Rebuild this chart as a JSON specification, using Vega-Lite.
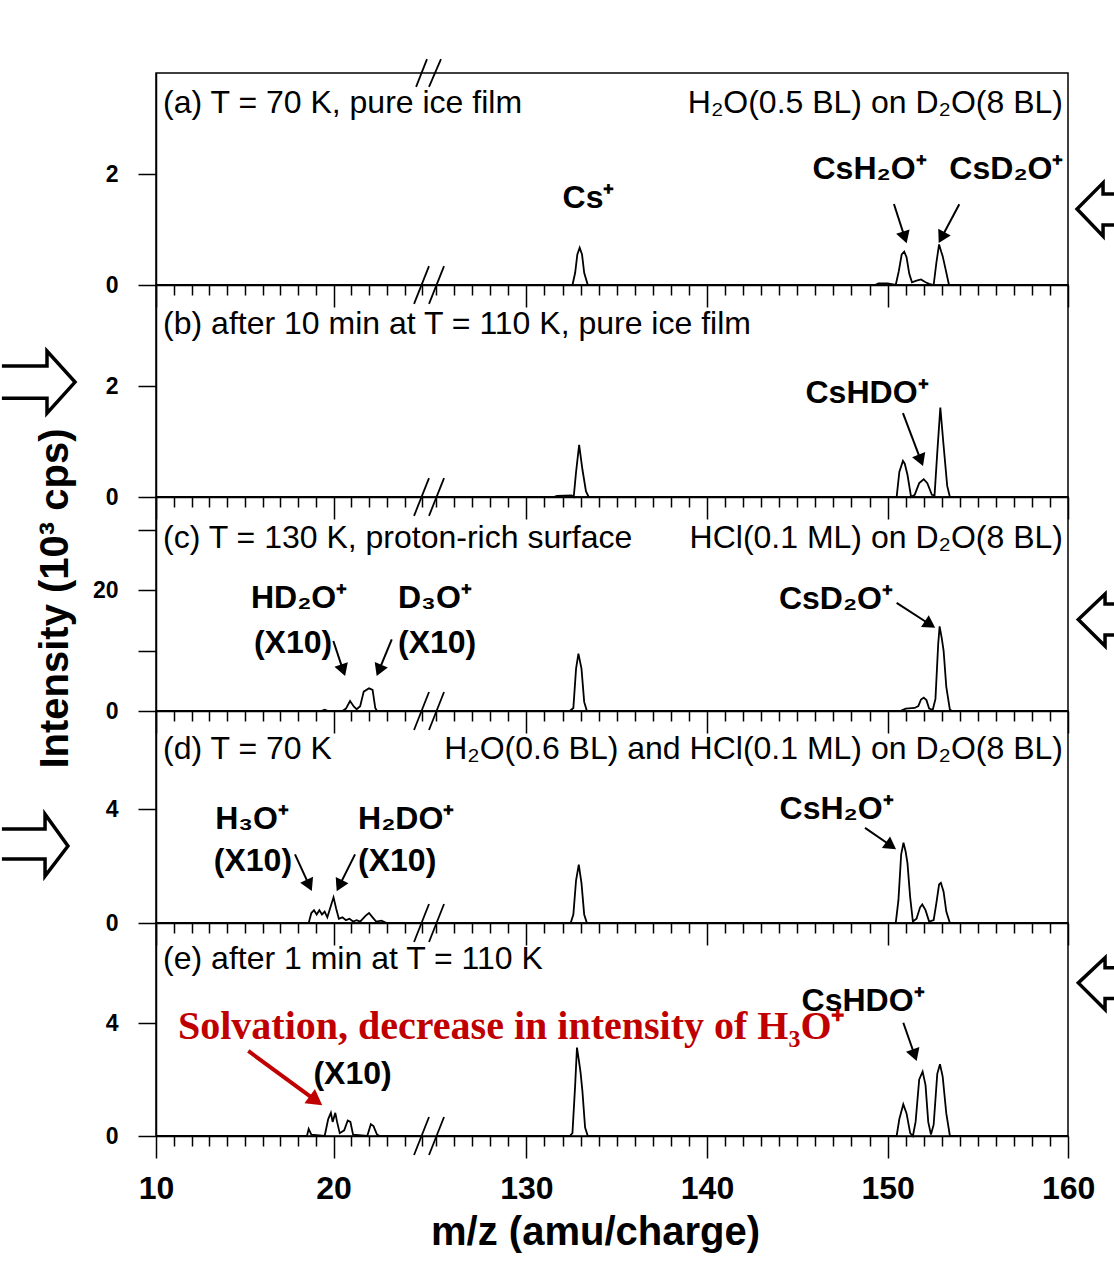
{
"$schema": "https://vega.github.io/schema/vega-lite/v6.json",
"background": "white",
"padding": {"left": -6, "top": 57, "right": 0, "bottom": 5},
"spacing": 0,
"bounds": "flush",
"datasets": {
"spec": [
{"p":"a","s":"L","x":10,"y":0},{"p":"a","s":"L","x":25,"y":0},
{"p":"a","s":"R","x":125,"y":0},{"p":"a","s":"R","x":132.55,"y":0},{"p":"a","s":"R","x":132.7,"y":0.22},{"p":"a","s":"R","x":132.82,"y":0.55},{"p":"a","s":"R","x":132.95,"y":0.67},{"p":"a","s":"R","x":133.08,"y":0.55},{"p":"a","s":"R","x":133.2,"y":0.22},{"p":"a","s":"R","x":133.4,"y":0},{"p":"a","s":"R","x":149.3,"y":0},{"p":"a","s":"R","x":149.5,"y":0.03},{"p":"a","s":"R","x":150,"y":0.03},{"p":"a","s":"R","x":150.45,"y":0},{"p":"a","s":"R","x":150.62,"y":0.25},{"p":"a","s":"R","x":150.78,"y":0.55},{"p":"a","s":"R","x":150.92,"y":0.6},{"p":"a","s":"R","x":151.05,"y":0.5},{"p":"a","s":"R","x":151.2,"y":0.2},{"p":"a","s":"R","x":151.35,"y":0.05},{"p":"a","s":"R","x":151.6,"y":0.08},{"p":"a","s":"R","x":151.85,"y":0.1},{"p":"a","s":"R","x":152.1,"y":0.05},{"p":"a","s":"R","x":152.3,"y":0.02},{"p":"a","s":"R","x":152.55,"y":0},{"p":"a","s":"R","x":152.7,"y":0.4},{"p":"a","s":"R","x":152.85,"y":0.73},{"p":"a","s":"R","x":152.97,"y":0.6},{"p":"a","s":"R","x":153.05,"y":0.52},{"p":"a","s":"R","x":153.2,"y":0.3},{"p":"a","s":"R","x":153.4,"y":0},{"p":"a","s":"R","x":160,"y":0},
{"p":"b","s":"L","x":10,"y":0},{"p":"b","s":"L","x":25,"y":0},
{"p":"b","s":"R","x":125,"y":0},{"p":"b","s":"R","x":131.5,"y":0},{"p":"b","s":"R","x":131.7,"y":0.02},{"p":"b","s":"R","x":132.5,"y":0.03},{"p":"b","s":"R","x":132.62,"y":0},{"p":"b","s":"R","x":132.75,"y":0.45},{"p":"b","s":"R","x":132.92,"y":0.94},{"p":"b","s":"R","x":133.1,"y":0.5},{"p":"b","s":"R","x":133.3,"y":0.1},{"p":"b","s":"R","x":133.45,"y":0},{"p":"b","s":"R","x":150.5,"y":0},{"p":"b","s":"R","x":150.65,"y":0.45},{"p":"b","s":"R","x":150.85,"y":0.65},{"p":"b","s":"R","x":150.95,"y":0.6},{"p":"b","s":"R","x":151.1,"y":0.4},{"p":"b","s":"R","x":151.3,"y":0},{"p":"b","s":"R","x":151.5,"y":0.04},{"p":"b","s":"R","x":151.75,"y":0.25},{"p":"b","s":"R","x":152.0,"y":0.32},{"p":"b","s":"R","x":152.2,"y":0.25},{"p":"b","s":"R","x":152.45,"y":0.04},{"p":"b","s":"R","x":152.6,"y":0.03},{"p":"b","s":"R","x":152.75,"y":0.8},{"p":"b","s":"R","x":152.92,"y":1.61},{"p":"b","s":"R","x":153.08,"y":1.0},{"p":"b","s":"R","x":153.3,"y":0.2},{"p":"b","s":"R","x":153.45,"y":0},{"p":"b","s":"R","x":160,"y":0},
{"p":"c","s":"L","x":10,"y":0},{"p":"c","s":"L","x":19.3,"y":0},{"p":"c","s":"L","x":19.5,"y":0.2},{"p":"c","s":"L","x":19.7,"y":0},{"p":"c","s":"L","x":20.5,"y":0},{"p":"c","s":"L","x":20.7,"y":0.4},{"p":"c","s":"L","x":20.93,"y":1.65},{"p":"c","s":"L","x":21.15,"y":0.7},{"p":"c","s":"L","x":21.3,"y":0.3},{"p":"c","s":"L","x":21.5,"y":0.8},{"p":"c","s":"L","x":21.7,"y":3.2},{"p":"c","s":"L","x":22.0,"y":3.75},{"p":"c","s":"L","x":22.2,"y":3.5},{"p":"c","s":"L","x":22.35,"y":0.5},{"p":"c","s":"L","x":22.45,"y":0},{"p":"c","s":"L","x":25,"y":0},
{"p":"c","s":"R","x":125,"y":0},{"p":"c","s":"R","x":132.4,"y":0},{"p":"c","s":"R","x":132.6,"y":0.5},{"p":"c","s":"R","x":132.75,"y":7},{"p":"c","s":"R","x":132.88,"y":9.5},{"p":"c","s":"R","x":133.05,"y":7},{"p":"c","s":"R","x":133.2,"y":1.5},{"p":"c","s":"R","x":133.35,"y":0},{"p":"c","s":"R","x":150.7,"y":0},{"p":"c","s":"R","x":151.0,"y":0.4},{"p":"c","s":"R","x":151.5,"y":0.5},{"p":"c","s":"R","x":151.7,"y":0.8},{"p":"c","s":"R","x":151.85,"y":1.9},{"p":"c","s":"R","x":152.0,"y":2.2},{"p":"c","s":"R","x":152.15,"y":1.8},{"p":"c","s":"R","x":152.3,"y":0.4},{"p":"c","s":"R","x":152.5,"y":0.2},{"p":"c","s":"R","x":152.65,"y":2},{"p":"c","s":"R","x":152.8,"y":11},{"p":"c","s":"R","x":152.88,"y":14},{"p":"c","s":"R","x":153.0,"y":12},{"p":"c","s":"R","x":153.1,"y":10},{"p":"c","s":"R","x":153.25,"y":4},{"p":"c","s":"R","x":153.45,"y":0.2},{"p":"c","s":"R","x":153.6,"y":0},{"p":"c","s":"R","x":160,"y":0},
{"p":"d","s":"L","x":10,"y":0},{"p":"d","s":"L","x":18.6,"y":0},{"p":"d","s":"L","x":18.75,"y":0.35},{"p":"d","s":"L","x":18.9,"y":0.45},{"p":"d","s":"L","x":19.05,"y":0.3},{"p":"d","s":"L","x":19.2,"y":0.45},{"p":"d","s":"L","x":19.35,"y":0.3},{"p":"d","s":"L","x":19.5,"y":0.4},{"p":"d","s":"L","x":19.65,"y":0.2},{"p":"d","s":"L","x":19.8,"y":0.5},{"p":"d","s":"L","x":20.0,"y":0.9},{"p":"d","s":"L","x":20.15,"y":0.5},{"p":"d","s":"L","x":20.3,"y":0.15},{"p":"d","s":"L","x":20.5,"y":0.2},{"p":"d","s":"L","x":20.7,"y":0.1},{"p":"d","s":"L","x":20.9,"y":0.15},{"p":"d","s":"L","x":21.1,"y":0.05},{"p":"d","s":"L","x":21.3,"y":0.1},{"p":"d","s":"L","x":21.5,"y":0.05},{"p":"d","s":"L","x":21.8,"y":0.25},{"p":"d","s":"L","x":22.0,"y":0.35},{"p":"d","s":"L","x":22.2,"y":0.2},{"p":"d","s":"L","x":22.4,"y":0.05},{"p":"d","s":"L","x":22.7,"y":0.08},{"p":"d","s":"L","x":23,"y":0},{"p":"d","s":"L","x":25,"y":0},
{"p":"d","s":"R","x":125,"y":0},{"p":"d","s":"R","x":132.45,"y":0},{"p":"d","s":"R","x":132.6,"y":0.3},{"p":"d","s":"R","x":132.75,"y":1.5},{"p":"d","s":"R","x":132.9,"y":2.05},{"p":"d","s":"R","x":133.05,"y":1.4},{"p":"d","s":"R","x":133.2,"y":0.3},{"p":"d","s":"R","x":133.35,"y":0},{"p":"d","s":"R","x":150.45,"y":0},{"p":"d","s":"R","x":150.6,"y":0.8},{"p":"d","s":"R","x":150.75,"y":2.4},{"p":"d","s":"R","x":150.88,"y":2.82},{"p":"d","s":"R","x":151.0,"y":2.5},{"p":"d","s":"R","x":151.1,"y":2.1},{"p":"d","s":"R","x":151.25,"y":0.9},{"p":"d","s":"R","x":151.4,"y":0.05},{"p":"d","s":"R","x":151.6,"y":0.15},{"p":"d","s":"R","x":151.8,"y":0.55},{"p":"d","s":"R","x":151.92,"y":0.65},{"p":"d","s":"R","x":152.1,"y":0.45},{"p":"d","s":"R","x":152.3,"y":0.05},{"p":"d","s":"R","x":152.55,"y":0.1},{"p":"d","s":"R","x":152.7,"y":0.7},{"p":"d","s":"R","x":152.85,"y":1.35},{"p":"d","s":"R","x":152.95,"y":1.41},{"p":"d","s":"R","x":153.1,"y":1.1},{"p":"d","s":"R","x":153.25,"y":0.4},{"p":"d","s":"R","x":153.45,"y":0},{"p":"d","s":"R","x":160,"y":0},
{"p":"e","s":"L","x":10,"y":0},{"p":"e","s":"L","x":18.5,"y":0},{"p":"e","s":"L","x":18.6,"y":0.25},{"p":"e","s":"L","x":18.75,"y":0.05},{"p":"e","s":"L","x":19.5,"y":0},{"p":"e","s":"L","x":19.7,"y":0.6},{"p":"e","s":"L","x":19.85,"y":0.82},{"p":"e","s":"L","x":19.95,"y":0.5},{"p":"e","s":"L","x":20.1,"y":0.82},{"p":"e","s":"L","x":20.2,"y":0.5},{"p":"e","s":"L","x":20.35,"y":0.1},{"p":"e","s":"L","x":20.6,"y":0.2},{"p":"e","s":"L","x":20.8,"y":0.55},{"p":"e","s":"L","x":20.95,"y":0.5},{"p":"e","s":"L","x":21.1,"y":0.05},{"p":"e","s":"L","x":21.9,"y":0},{"p":"e","s":"L","x":22.1,"y":0.42},{"p":"e","s":"L","x":22.25,"y":0.35},{"p":"e","s":"L","x":22.45,"y":0.05},{"p":"e","s":"L","x":22.6,"y":0},{"p":"e","s":"L","x":25,"y":0},
{"p":"e","s":"R","x":125,"y":0},{"p":"e","s":"R","x":132.4,"y":0},{"p":"e","s":"R","x":132.55,"y":0.1},{"p":"e","s":"R","x":132.7,"y":1.8},{"p":"e","s":"R","x":132.8,"y":3.13},{"p":"e","s":"R","x":132.9,"y":2.7},{"p":"e","s":"R","x":133.0,"y":2.24},{"p":"e","s":"R","x":133.1,"y":1.6},{"p":"e","s":"R","x":133.25,"y":0.3},{"p":"e","s":"R","x":133.4,"y":0},{"p":"e","s":"R","x":150.5,"y":0},{"p":"e","s":"R","x":150.65,"y":0.6},{"p":"e","s":"R","x":150.87,"y":1.12},{"p":"e","s":"R","x":151.05,"y":0.8},{"p":"e","s":"R","x":151.25,"y":0.1},{"p":"e","s":"R","x":151.4,"y":0},{"p":"e","s":"R","x":151.55,"y":0.5},{"p":"e","s":"R","x":151.75,"y":2.0},{"p":"e","s":"R","x":151.94,"y":2.28},{"p":"e","s":"R","x":152.1,"y":1.8},{"p":"e","s":"R","x":152.25,"y":0.5},{"p":"e","s":"R","x":152.4,"y":0.05},{"p":"e","s":"R","x":152.55,"y":0.4},{"p":"e","s":"R","x":152.75,"y":2.2},{"p":"e","s":"R","x":152.9,"y":2.54},{"p":"e","s":"R","x":153.05,"y":2.1},{"p":"e","s":"R","x":153.25,"y":0.8},{"p":"e","s":"R","x":153.45,"y":0},{"p":"e","s":"R","x":160,"y":0}
]
},
"vconcat": [
{
"width": 912, "height": 212,
"encoding": {
"x": {"field": "x", "type": "quantitative", "scale": {"domain": [10, 25, 125, 160], "range": [0, 266.3, 280.1, 912.2], "nice": false, "zero": false}, "axis": {"values": [10,11,12,13,14,15,16,17,18,19,20,21,22,23,24,25,125,126,127,128,129,130,131,132,133,134,135,136,137,138,139,140,141,142,143,144,145,146,147,148,149,150,151,152,153,154,155,156,157,158,159,160], "labels": false, "title": null, "tickSize": {"condition": {"test": "datum.value % 10 === 0", "value": 22}, "value": 10}}},
"y": {"field": "y", "type": "quantitative", "scale": {"domain": [0, 3.82], "nice": false, "zero": false}, "axis": {"values": [0, 2], "title": null}}
},
"layer": [
{"data": {"name": "spec"}, "transform": [{"filter": "datum.p === 'a'"}], "mark": {"type": "line", "color": "#000", "strokeWidth": 1.8}, "encoding": {"detail": {"field": "s"}}},
{"data": {"values": [{"x":24.65,"y":3.57,"x2":59,"y2":4.07},{"x":73.6,"y":3.57,"x2":125.27,"y2":4.07},{"x":24.535,"y":-0.34,"x2":73.6,"y2":0.34},{"x":73.6,"y":-0.34,"x2":125.44,"y2":0.34}]}, "mark": {"type": "rule", "color": "#000", "strokeWidth": 1.8}, "encoding": {"x2": {"field": "x2"}, "y2": {"field": "y2"}}},
{"data": {"values": [{"x":10.4,"y":3.28,"t":"(a) T = 70 K, pure ice film"}]}, "mark": {"type": "text", "align": "left", "baseline": "middle", "fontSize": 32, "color": "#000"}, "encoding": {"text": {"field": "t"}}},
{"data": {"values": [{"x":159.71,"y":3.28,"t":"H₂O(0.5 BL) on D₂O(8 BL)"}]}, "mark": {"type": "text", "align": "right", "baseline": "middle", "fontSize": 32, "color": "#000"}, "encoding": {"text": {"field": "t"}}},
{"data": {"values": [{"x":133.44,"y":1.57,"t":"Cs⁺"},{"x":149.0,"y":2.09,"t":"CsH₂O⁺"},{"x":156.58,"y":2.09,"t":"CsD₂O⁺"}]}, "mark": {"type": "text", "align": "center", "baseline": "middle", "fontSize": 32, "fontWeight": "bold", "color": "#000"}, "encoding": {"text": {"field": "t"}}},
{"data": {"values": [{"x":150.35,"y":1.46,"x2":150.95,"y2":0.857},{"x":153.97,"y":1.454,"x2":152.99,"y2":0.856}]}, "mark": {"type": "rule", "color": "#000", "strokeWidth": 2}, "encoding": {"x2": {"field": "x2"}, "y2": {"field": "y2"}}},
{"data": {"values": [{"x":150.95,"y":0.857}]}, "mark": {"type": "point", "shape": "triangle-right", "filled": true, "color": "#000", "opacity": 1, "size": 200, "angle": 72}},
{"data": {"values": [{"x":152.99,"y":0.856}]}, "mark": {"type": "point", "shape": "triangle-right", "filled": true, "color": "#000", "opacity": 1, "size": 200, "angle": 118}},
{"data": {"values": [{"x":163.42,"y":1.64},{"x":161.93,"y":1.64},{"x":161.93,"y":1.84},{"x":160.49,"y":1.37},{"x":161.93,"y":0.88},{"x":161.93,"y":1.08},{"x":163.42,"y":1.08}]}, "mark": {"type": "line", "color": "#000", "strokeWidth": 3.5, "strokeJoin": "miter"}, "encoding": {"order": {"value": null}}}
]
},
{
"width": 912, "height": 212,
"encoding": {
"x": {"field": "x", "type": "quantitative", "scale": {"domain": [10, 25, 125, 160], "range": [0, 266.3, 280.1, 912.2], "nice": false, "zero": false}, "axis": {"values": [10,11,12,13,14,15,16,17,18,19,20,21,22,23,24,25,125,126,127,128,129,130,131,132,133,134,135,136,137,138,139,140,141,142,143,144,145,146,147,148,149,150,151,152,153,154,155,156,157,158,159,160], "labels": false, "title": null, "tickSize": {"condition": {"test": "datum.value % 10 === 0", "value": 22}, "value": 10}}},
"y": {"field": "y", "type": "quantitative", "scale": {"domain": [0, 3.82], "nice": false, "zero": false}, "axis": {"values": [0, 2], "title": null}}
},
"layer": [
{"data": {"name": "spec"}, "transform": [{"filter": "datum.p === 'b'"}], "mark": {"type": "line", "color": "#000", "strokeWidth": 1.8}, "encoding": {"detail": {"field": "s"}}},
{"data": {"values": [{"x":24.535,"y":-0.34,"x2":73.6,"y2":0.34},{"x":73.6,"y":-0.34,"x2":125.44,"y2":0.34}]}, "mark": {"type": "rule", "color": "#000", "strokeWidth": 1.8}, "encoding": {"x2": {"field": "x2"}, "y2": {"field": "y2"}}},
{"data": {"values": [{"x":10.4,"y":3.12,"t":"(b) after 10 min at T = 110 K, pure ice film"}]}, "mark": {"type": "text", "align": "left", "baseline": "middle", "fontSize": 32, "color": "#000"}, "encoding": {"text": {"field": "t"}}},
{"data": {"values": [{"x":148.86,"y":1.88,"t":"CsHDO⁺"}]}, "mark": {"type": "text", "align": "center", "baseline": "middle", "fontSize": 32, "fontWeight": "bold", "color": "#000"}, "encoding": {"text": {"field": "t"}}},
{"data": {"values": [{"x":150.85,"y":1.51,"x2":151.84,"y2":0.66}]}, "mark": {"type": "rule", "color": "#000", "strokeWidth": 2}, "encoding": {"x2": {"field": "x2"}, "y2": {"field": "y2"}}},
{"data": {"values": [{"x":151.84,"y":0.66}]}, "mark": {"type": "point", "shape": "triangle-right", "filled": true, "color": "#000", "opacity": 1, "size": 200, "angle": 69}},
{"data": {"values": [{"x":1.32,"y":2.36},{"x":3.86,"y":2.36},{"x":3.86,"y":2.63},{"x":5.44,"y":2.07},{"x":3.86,"y":1.51},{"x":3.86,"y":1.78},{"x":1.32,"y":1.78}]}, "mark": {"type": "line", "color": "#000", "strokeWidth": 3.5, "strokeJoin": "miter"}, "encoding": {"order": {"value": null}}}
]
},
{
"width": 912, "height": 214,
"encoding": {
"x": {"field": "x", "type": "quantitative", "scale": {"domain": [10, 25, 125, 160], "range": [0, 266.3, 280.1, 912.2], "nice": false, "zero": false}, "axis": {"values": [10,11,12,13,14,15,16,17,18,19,20,21,22,23,24,25,125,126,127,128,129,130,131,132,133,134,135,136,137,138,139,140,141,142,143,144,145,146,147,148,149,150,151,152,153,154,155,156,157,158,159,160], "labels": false, "title": null, "tickSize": {"condition": {"test": "datum.value % 10 === 0", "value": 22}, "value": 10}}},
"y": {"field": "y", "type": "quantitative", "scale": {"domain": [0, 35.4], "nice": false, "zero": false}, "axis": {"values": [0, 10, 20, 30], "labelExpr": "datum.value === 10 || datum.value === 30 ? '' : datum.label", "title": "Intensity (10³ cps)", "titleFontSize": 40, "titleX": -81, "titleY": 101}}
},
"layer": [
{"data": {"name": "spec"}, "transform": [{"filter": "datum.p === 'c'"}], "mark": {"type": "line", "color": "#000", "strokeWidth": 1.8}, "encoding": {"detail": {"field": "s"}}},
{"data": {"values": [{"x":24.535,"y":-3.14,"x2":73.6,"y2":3.14},{"x":73.6,"y":-3.14,"x2":125.44,"y2":3.14}]}, "mark": {"type": "rule", "color": "#000", "strokeWidth": 1.8}, "encoding": {"x2": {"field": "x2"}, "y2": {"field": "y2"}}},
{"data": {"values": [{"x":10.4,"y":28.6,"t":"(c) T = 130 K, proton-rich surface"}]}, "mark": {"type": "text", "align": "left", "baseline": "middle", "fontSize": 32, "color": "#000"}, "encoding": {"text": {"field": "t"}}},
{"data": {"values": [{"x":159.71,"y":28.6,"t":"HCl(0.1 ML) on D₂O(8 BL)"}]}, "mark": {"type": "text", "align": "right", "baseline": "middle", "fontSize": 32, "color": "#000"}, "encoding": {"text": {"field": "t"}}},
{"data": {"values": [{"x":18.06,"y":18.7,"t":"HD₂O⁺"},{"x":17.72,"y":11.2,"t":"(X10)"},{"x":147.14,"y":18.5,"t":"CsD₂O⁺"}]}, "mark": {"type": "text", "align": "center", "baseline": "middle", "fontSize": 32, "fontWeight": "bold", "color": "#000"}, "encoding": {"text": {"field": "t"}}},
{"data": {"values": [{"x":23.63,"y":18.7,"t":"D₃O⁺"},{"x":23.63,"y":11.2,"t":"(X10)"}]}, "mark": {"type": "text", "align": "left", "baseline": "middle", "fontSize": 32, "fontWeight": "bold", "color": "#000"}, "encoding": {"text": {"field": "t"}}},
{"data": {"values": [{"x":19.99,"y":11.57,"x2":20.54,"y2":6.73},{"x":23.28,"y":11.85,"x2":22.56,"y2":6.71},{"x":150.5,"y":17.9,"x2":152.35,"y2":14.31}]}, "mark": {"type": "rule", "color": "#000", "strokeWidth": 2}, "encoding": {"x2": {"field": "x2"}, "y2": {"field": "y2"}}},
{"data": {"values": [{"x":20.54,"y":6.73}]}, "mark": {"type": "point", "shape": "triangle-right", "filled": true, "color": "#000", "opacity": 1, "size": 200, "angle": 71}},
{"data": {"values": [{"x":22.56,"y":6.71}]}, "mark": {"type": "point", "shape": "triangle-right", "filled": true, "color": "#000", "opacity": 1, "size": 200, "angle": 112}},
{"data": {"values": [{"x":152.35,"y":14.31}]}, "mark": {"type": "point", "shape": "triangle-right", "filled": true, "color": "#000", "opacity": 1, "size": 200, "angle": 33}},
{"data": {"values": [{"x":163.42,"y":17.69},{"x":162.04,"y":17.69},{"x":162.04,"y":19.34},{"x":160.56,"y":15.12},{"x":162.04,"y":10.74},{"x":162.04,"y":12.56},{"x":163.42,"y":12.56}]}, "mark": {"type": "line", "color": "#000", "strokeWidth": 3.5, "strokeJoin": "miter"}, "encoding": {"order": {"value": null}}}
]
},
{
"width": 912, "height": 212,
"encoding": {
"x": {"field": "x", "type": "quantitative", "scale": {"domain": [10, 25, 125, 160], "range": [0, 266.3, 280.1, 912.2], "nice": false, "zero": false}, "axis": {"values": [10,11,12,13,14,15,16,17,18,19,20,21,22,23,24,25,125,126,127,128,129,130,131,132,133,134,135,136,137,138,139,140,141,142,143,144,145,146,147,148,149,150,151,152,153,154,155,156,157,158,159,160], "labels": false, "title": null, "tickSize": {"condition": {"test": "datum.value % 10 === 0", "value": 22}, "value": 10}}},
"y": {"field": "y", "type": "quantitative", "scale": {"domain": [0, 7.44], "nice": false, "zero": false}, "axis": {"values": [0, 4], "title": null}}
},
"layer": [
{"data": {"name": "spec"}, "transform": [{"filter": "datum.p === 'd'"}], "mark": {"type": "line", "color": "#000", "strokeWidth": 1.8}, "encoding": {"detail": {"field": "s"}}},
{"data": {"values": [{"x":24.535,"y":-0.667,"x2":73.6,"y2":0.667},{"x":73.6,"y":-0.667,"x2":125.44,"y2":0.667}]}, "mark": {"type": "rule", "color": "#000", "strokeWidth": 1.8}, "encoding": {"x2": {"field": "x2"}, "y2": {"field": "y2"}}},
{"data": {"values": [{"x":10.4,"y":6.1,"t":"(d) T = 70 K"}]}, "mark": {"type": "text", "align": "left", "baseline": "middle", "fontSize": 32, "color": "#000"}, "encoding": {"text": {"field": "t"}}},
{"data": {"values": [{"x":159.71,"y":6.1,"t":"H₂O(0.6 BL) and HCl(0.1 ML) on D₂O(8 BL)"}]}, "mark": {"type": "text", "align": "right", "baseline": "middle", "fontSize": 32, "color": "#000"}, "encoding": {"text": {"field": "t"}}},
{"data": {"values": [{"x":15.41,"y":3.65,"t":"H₃O⁺"},{"x":15.46,"y":2.18,"t":"(X10)"},{"x":147.18,"y":3.99,"t":"CsH₂O⁺"}]}, "mark": {"type": "text", "align": "center", "baseline": "middle", "fontSize": 32, "fontWeight": "bold", "color": "#000"}, "encoding": {"text": {"field": "t"}}},
{"data": {"values": [{"x":21.38,"y":3.65,"t":"H₂DO⁺"},{"x":21.38,"y":2.18,"t":"(X10)"}]}, "mark": {"type": "text", "align": "left", "baseline": "middle", "fontSize": 32, "fontWeight": "bold", "color": "#000"}, "encoding": {"text": {"field": "t"}}},
{"data": {"values": [{"x":17.83,"y":2.41,"x2":18.63,"y2":1.32},{"x":21.21,"y":2.41,"x2":20.33,"y2":1.31},{"x":148.75,"y":3.34,"x2":150.19,"y2":2.71}]}, "mark": {"type": "rule", "color": "#000", "strokeWidth": 2}, "encoding": {"x2": {"field": "x2"}, "y2": {"field": "y2"}}},
{"data": {"values": [{"x":18.63,"y":1.32}]}, "mark": {"type": "point", "shape": "triangle-right", "filled": true, "color": "#000", "opacity": 1, "size": 200, "angle": 65}},
{"data": {"values": [{"x":20.33,"y":1.31}]}, "mark": {"type": "point", "shape": "triangle-right", "filled": true, "color": "#000", "opacity": 1, "size": 200, "angle": 116}},
{"data": {"values": [{"x":150.19,"y":2.71}]}, "mark": {"type": "point", "shape": "triangle-right", "filled": true, "color": "#000", "opacity": 1, "size": 200, "angle": 35}},
{"data": {"values": [{"x":1.32,"y":3.30},{"x":3.75,"y":3.30},{"x":3.75,"y":3.82},{"x":5.04,"y":2.70},{"x":3.75,"y":1.65},{"x":3.75,"y":2.25},{"x":1.32,"y":2.25}]}, "mark": {"type": "line", "color": "#000", "strokeWidth": 3.5, "strokeJoin": "miter"}, "encoding": {"order": {"value": null}}}
]
},
{
"width": 912, "height": 213,
"encoding": {
"x": {"field": "x", "type": "quantitative", "scale": {"domain": [10, 25, 125, 160], "range": [0, 266.3, 280.1, 912.2], "nice": false, "zero": false}, "axis": {"values": [10,11,12,13,14,15,16,17,18,19,20,21,22,23,24,25,125,126,127,128,129,130,131,132,133,134,135,136,137,138,139,140,141,142,143,144,145,146,147,148,149,150,151,152,153,154,155,156,157,158,159,160], "labelExpr": "datum.value % 10 === 0 ? datum.label : ''", "labelFontSize": 32, "labelPadding": 15, "labelFlush": false, "labelOverlap": false, "title": "m/z (amu/charge)", "titleFontSize": 40, "titlePadding": 8, "titleX": 439, "tickSize": {"condition": {"test": "datum.value % 10 === 0", "value": 22}, "value": 10}}},
"y": {"field": "y", "type": "quantitative", "scale": {"domain": [0, 7.54], "nice": false, "zero": false}, "axis": {"values": [0, 4], "title": null}}
},
"layer": [
{"data": {"name": "spec"}, "transform": [{"filter": "datum.p === 'e'"}], "mark": {"type": "line", "color": "#000", "strokeWidth": 1.8}, "encoding": {"detail": {"field": "s"}}},
{"data": {"values": [{"x":24.535,"y":-0.673,"x2":73.6,"y2":0.673},{"x":73.6,"y":-0.673,"x2":125.44,"y2":0.673}]}, "mark": {"type": "rule", "color": "#000", "strokeWidth": 1.8}, "encoding": {"x2": {"field": "x2"}, "y2": {"field": "y2"}}},
{"data": {"values": [{"x":10.4,"y":6.27,"t":"(e) after 1 min at T = 110 K"}]}, "mark": {"type": "text", "align": "left", "baseline": "middle", "fontSize": 32, "color": "#000"}, "encoding": {"text": {"field": "t"}}},
{"data": {"values": [{"x":148.64,"y":4.78,"t":"CsHDO⁺"},{"x":21.07,"y":2.19,"t":"(X10)"}]}, "mark": {"type": "text", "align": "center", "baseline": "middle", "fontSize": 32, "fontWeight": "bold", "color": "#000"}, "encoding": {"text": {"field": "t"}}},
{"data": {"values": [{"x":11.24,"y":3.43,"t":"Solvation, decrease in intensity of H₃O⁺"}]}, "mark": {"type": "text", "align": "left", "baseline": "alphabetic", "font": "Liberation Serif", "fontSize": 40, "fontWeight": "bold", "color": "#c00000"}, "encoding": {"text": {"field": "t"}}},
{"data": {"values": [{"x":150.87,"y":4.01,"x2":151.5,"y2":2.86}]}, "mark": {"type": "rule", "color": "#000", "strokeWidth": 2}, "encoding": {"x2": {"field": "x2"}, "y2": {"field": "y2"}}},
{"data": {"values": [{"x":151.5,"y":2.86}]}, "mark": {"type": "point", "shape": "triangle-right", "filled": true, "color": "#000", "opacity": 1, "size": 200, "angle": 71}},
{"data": {"values": [{"x":15.2,"y":3.01,"x2":19.01,"y2":1.25}]}, "mark": {"type": "rule", "color": "#c00000", "strokeWidth": 4}, "encoding": {"x2": {"field": "x2"}, "y2": {"field": "y2"}}},
{"data": {"values": [{"x":19.01,"y":1.25}]}, "mark": {"type": "point", "shape": "triangle-right", "filled": true, "color": "#c00000", "opacity": 1, "size": 320, "angle": 36}},
{"data": {"values": [{"x":163.42,"y":5.96},{"x":162.04,"y":5.96},{"x":162.04,"y":6.31},{"x":160.56,"y":5.42},{"x":162.04,"y":4.48},{"x":162.04,"y":4.87},{"x":163.42,"y":4.87}]}, "mark": {"type": "line", "color": "#000", "strokeWidth": 3.5, "strokeJoin": "miter"}, "encoding": {"order": {"value": null}}}
]
}
],
"config": {
"view": {"stroke": "#000", "strokeWidth": 1.5},
"axis": {"grid": false, "domainColor": "#000", "domainWidth": 1.5, "tickColor": "#000", "tickWidth": 1.5, "labelColor": "#000", "labelFont": "Liberation Sans", "labelFontWeight": "bold", "titleColor": "#000", "titleFont": "Liberation Sans", "titleFontWeight": "bold"},
"axisY": {"tickSize": 18, "labelPadding": 20, "labelFontSize": 23},
"text": {"font": "Liberation Sans", "color": "#000"}
}
}
